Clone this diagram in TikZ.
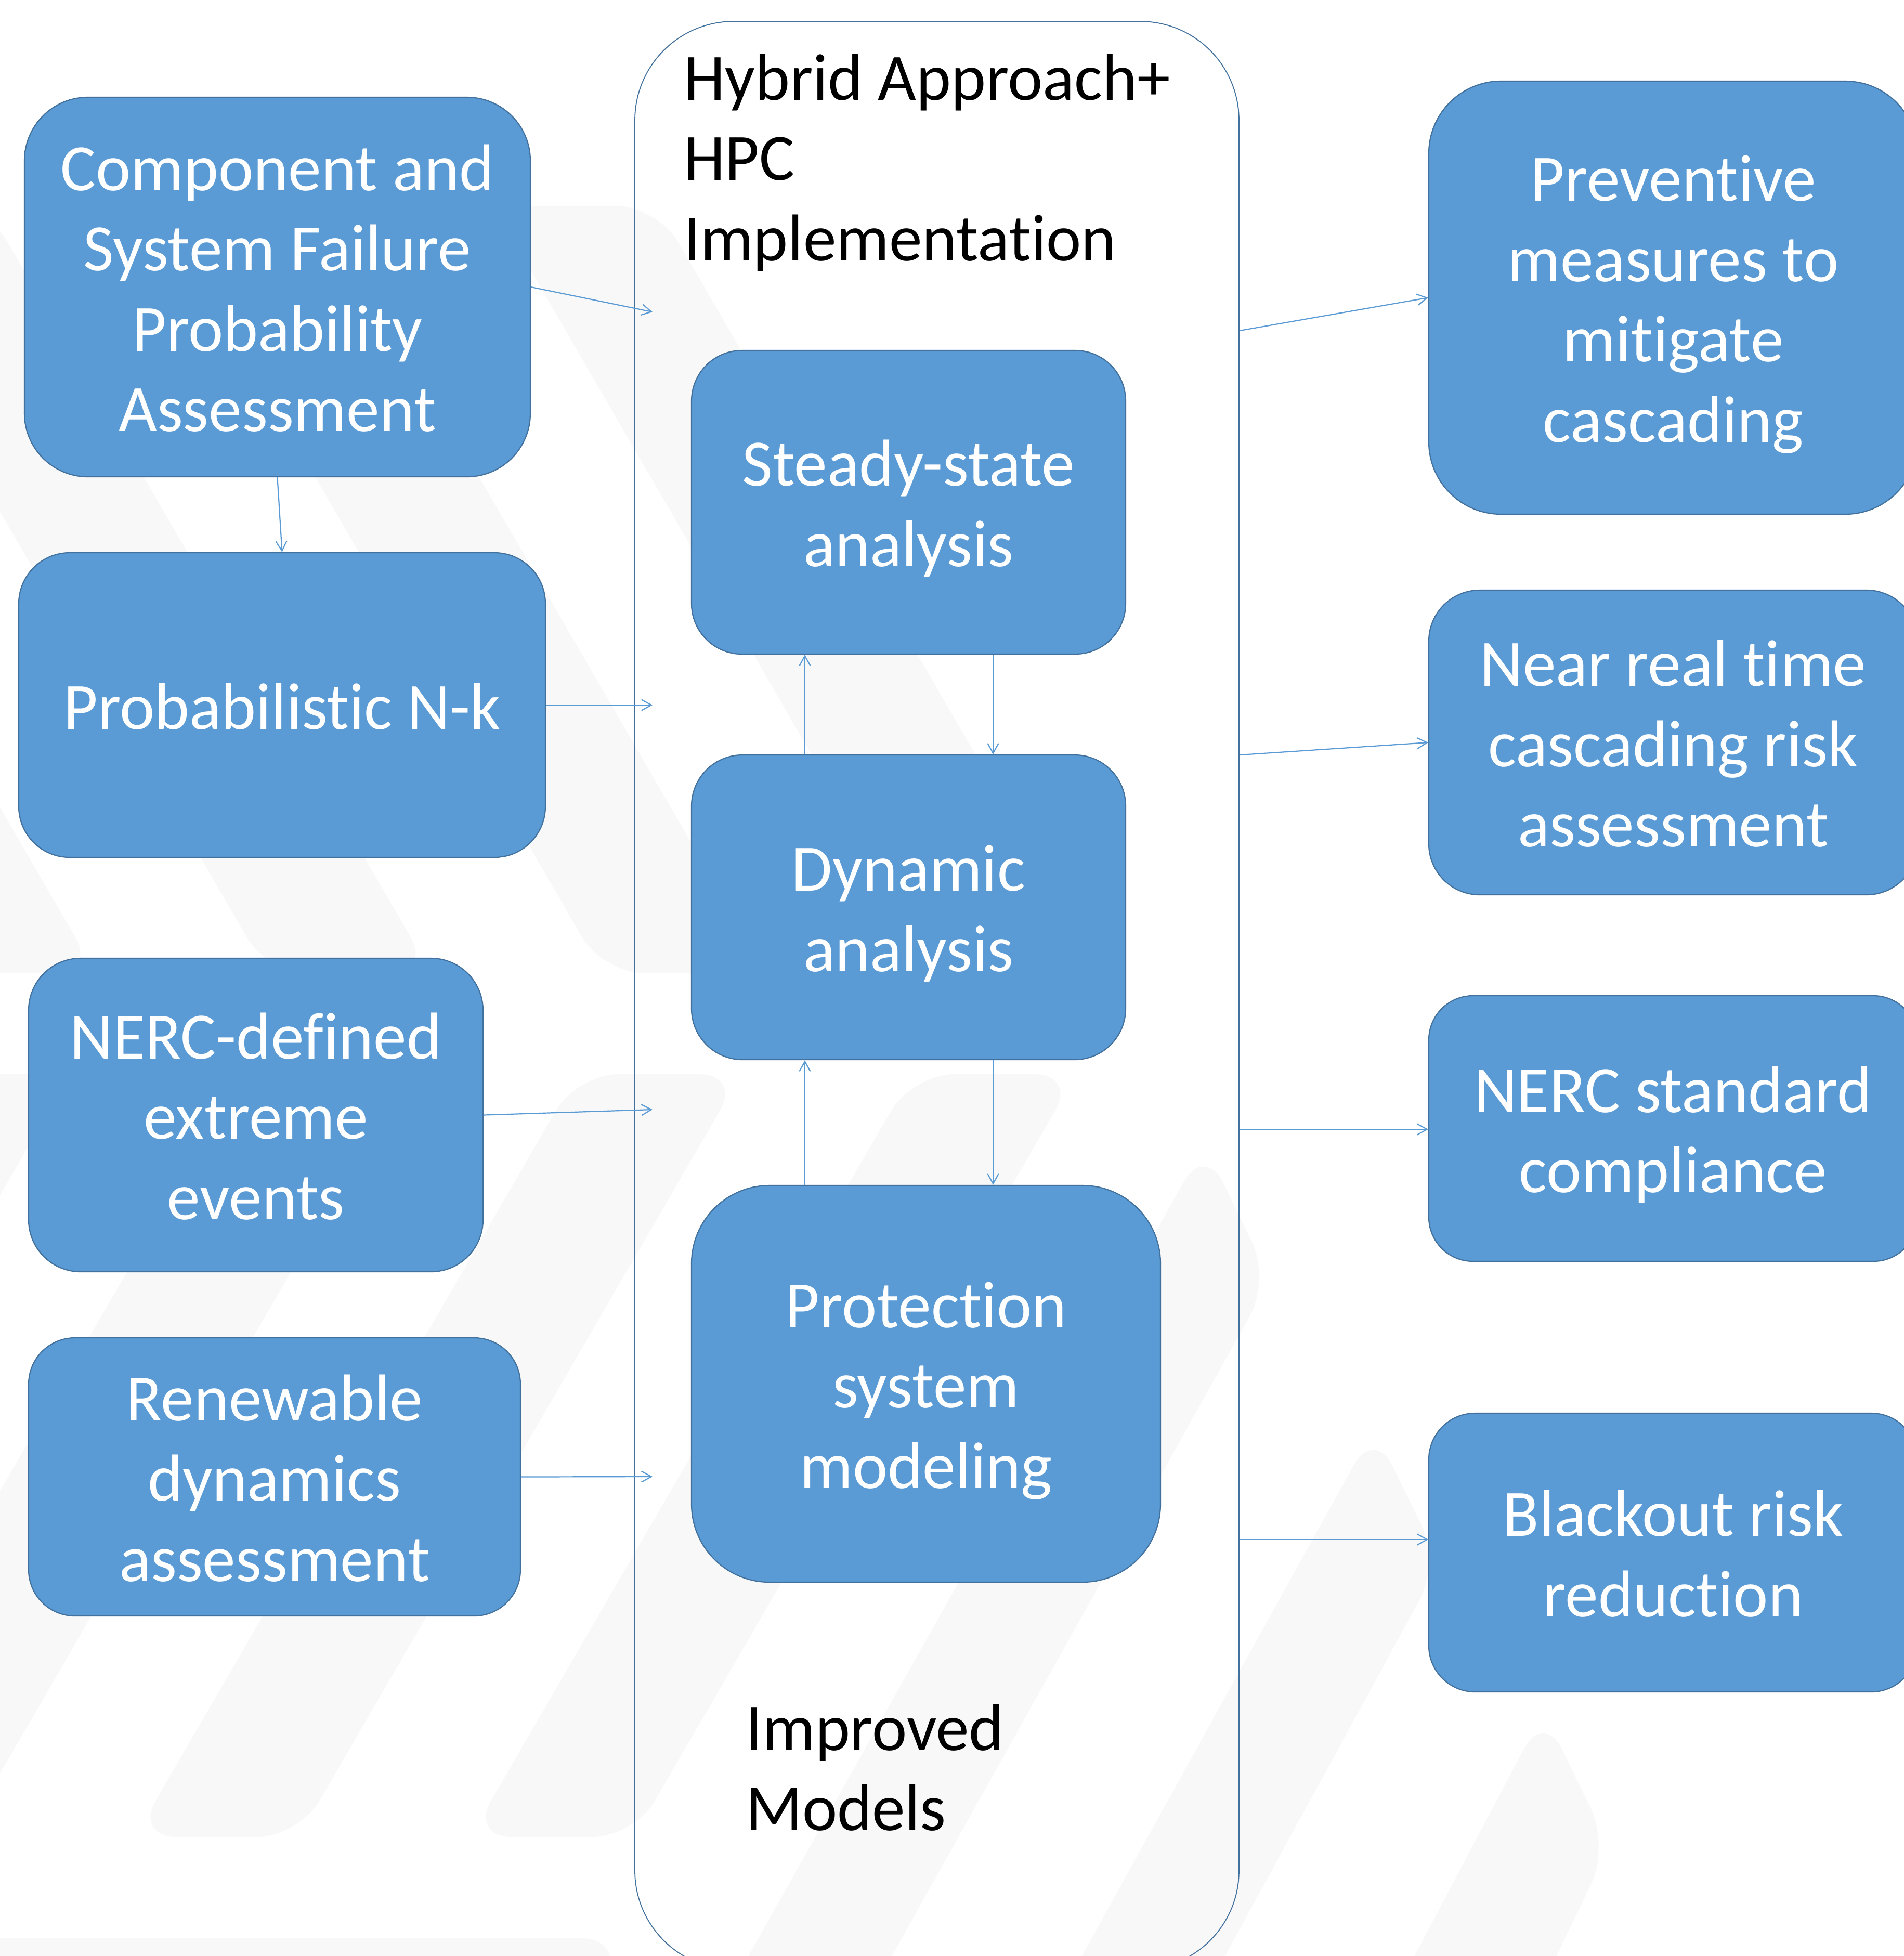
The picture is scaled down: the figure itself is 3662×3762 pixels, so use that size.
\documentclass[tikz,border=0pt]{standalone}
\usepackage{fontspec}
\setmainfont[Ligatures={NoCommon,NoContextual}]{Carlito}
\usetikzlibrary{arrows.meta}
\definecolor{boxfill}{HTML}{5B9BD5}
\definecolor{boxline}{HTML}{41719C}
\definecolor{wmgray}{HTML}{F8F8F8}
\newcommand\mytop{\rule{0pt}{12pt}}
\newcommand\mybot{\rule[-2.8pt]{0pt}{2.8pt}}
\begin{document}
\begin{tikzpicture}[x=0.1pt,y=-0.1pt,
  box/.style={draw=boxline, line width=0.22pt, fill=boxfill, text=white, align=center,
    inner sep=0pt, font=\fontsize{12.75}{15.45}\selectfont},
  container/.style={draw=boxline, line width=0.18pt, inner sep=0pt, rounded corners=19pt},
  plaintext/.style={text=black, align=left, inner sep=0pt, anchor=north west,
    font=\fontsize{12.75}{15.45}\selectfont},
  conn/.style={draw=boxfill, line width=0.22pt, -{Straight Barb[length=1.9pt,width=2.1pt]}},
  wmark/.style={fill=wmgray, draw=none, rounded corners=8pt}
]
\useasboundingbox (0,0) rectangle (3662,3762);
\clip (0,0) rectangle (3662,3762);
\fill[white] (0,0) rectangle (3662,3762);

% faint background watermark
\fill[wmark] (949,396) -- (1264,396) -- (2120,1872) -- (1805,1872) -- cycle;
\fill[wmark] (304,396) -- (619,396) -- (1475,1872) -- (1160,1872) -- cycle;
\fill[wmark] (-341,396) -- (-26,396) -- (830,1872) -- (515,1872) -- cycle;
\fill[wmark] (-986,396) -- (-671,396) -- (185,1872) -- (-130,1872) -- cycle;
\fill[wmark] (1755,2066) -- (2070,2066) -- (1219,3533) -- (904,3533) -- cycle;
\fill[wmark] (1110,2066) -- (1425,2066) -- (574,3533) -- (259,3533) -- cycle;
\fill[wmark] (465,2066) -- (780,2066) -- (-71,3533) -- (-386,3533) -- cycle;
\fill[wmark] (-180,2066) -- (135,2066) -- (-716,3533) -- (-1031,3533) -- cycle;
\fill[wmark] (2317,2202) -- (2443,2461) -- (1666,3850) -- (1390,3850) -- cycle;
\fill[wmark] (2643,2747) -- (2769,3006) -- (2308,3850) -- (2032,3850) -- cycle;
\fill[wmark] (2969,3292) -- (3095,3551) -- (2951,3850) -- (2674,3850) -- cycle;
\fill[wmark] (-100,3728) -- (1200,3728) -- (1150,3850) -- (-100,3850) -- cycle;

% container
\node[container, minimum width=116.2pt, minimum height=374.7pt] (cont) at (1802,1914.5) {};
\node[plaintext] (title) at (1313,70) {\mytop Hybrid Approach+\\HPC\\Implementation};
\node[plaintext] (improved) at (1432,3244) {\mytop Improved\\Models};

% left boxes
\node[box, rounded corners=12.2pt, minimum width=97.3pt, minimum height=73pt] (comp) at (533.5,552)
  {\mytop Component and\\System Failure\\Probability\\Assessment\mybot};
\node[box, rounded corners=9.8pt, minimum width=101.3pt, minimum height=58.6pt] (prob) at (542.5,1356)
  {\mytop Probabilistic N-k\mybot};
\node[box, rounded corners=10pt, minimum width=87.4pt, minimum height=60.3pt] (nerc) at (492,2144.5)
  {\mytop NERC-defined\\extreme\\events\mybot};
\node[box, rounded corners=8.9pt, minimum width=94.6pt, minimum height=53.5pt] (ren) at (528,2840.5)
  {\mytop Renewable\\dynamics\\assessment\mybot};

% centre boxes
\node[box, rounded corners=9.7pt, minimum width=83.5pt, minimum height=58.4pt] (steady) at (1747.5,966)
  {\mytop Steady-state\\analysis\mybot};
\node[box, rounded corners=9.8pt, minimum width=83.5pt, minimum height=58.6pt] (dyn) at (1747.5,1745)
  {\mytop Dynamic\\analysis\mybot};
\node[box, rounded corners=15pt, minimum width=90.2pt, minimum height=76.3pt] (prot) at (1781,2661.5)
  {\mytop Protection\\system\\modeling\mybot};

% right boxes
\node[box, rounded corners=13.9pt, minimum width=94pt, minimum height=83.3pt] (prev) at (3218,572.5)
  {\mytop Preventive\\measures to\\mitigate\\cascading\mybot};
\node[box, rounded corners=9.8pt, minimum width=94pt, minimum height=58.6pt] (near) at (3218,1428)
  {\mytop Near real time\\cascading risk\\assessment\mybot};
\node[box, rounded corners=8.5pt, minimum width=94pt, minimum height=51.1pt] (nstd) at (3218,2170.5)
  {\mytop NERC standard\\compliance\mybot};
\node[box, rounded corners=8.9pt, minimum width=94pt, minimum height=53.6pt] (black) at (3218,2986)
  {\mytop Blackout risk\\reduction\mybot};

% connector end points
\coordinate (i1) at (1255,600);
\coordinate (i2) at (1255,1356);
\coordinate (i3) at (1255,2134);
\coordinate (i4) at (1255,2840);
\coordinate (o1) at (cont.east |- 0,636);
\coordinate (o2) at (cont.east |- 0,1452);
\coordinate (o3) at (cont.east |- 0,2172);
\coordinate (o4) at (cont.east |- 0,2961);
\coordinate (upx) at (1548,0);
\coordinate (dnx) at (1910,0);

% connectors
\draw[conn] (comp.east) -- (i1);
\draw[conn] (comp.south) -- (prob.north);
\draw[conn] (prob.east) -- (i2);
\draw[conn] (nerc.east) -- (i3);
\draw[conn] (ren.east) -- (i4);

\draw[conn] (upx |- dyn.north) -- (upx |- steady.south);
\draw[conn] (dnx |- steady.south) -- (dnx |- dyn.north);
\draw[conn] (upx |- prot.north) -- (upx |- dyn.south);
\draw[conn] (dnx |- dyn.south) -- (dnx |- prot.north);

\draw[conn] (o1) -- (prev.west);
\draw[conn] (o2) -- (near.west);
\draw[conn] (o3) -- (o3 -| nstd.west);
\draw[conn] (o4) -- (o4 -| black.west);
\end{tikzpicture}
\end{document}
